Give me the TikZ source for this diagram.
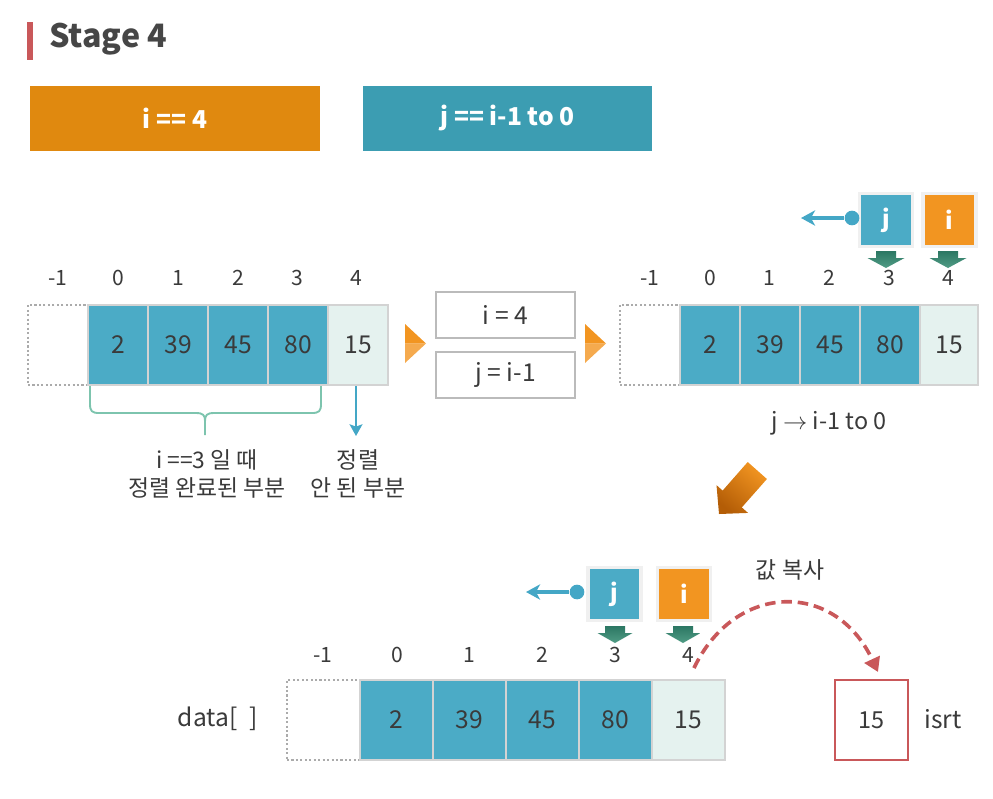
\documentclass[tikz,border=0pt]{standalone}
\usepackage{fontspec}
\setmainfont{Noto Sans CJK KR}
\usetikzlibrary{arrows.meta}
\definecolor{txt}{HTML}{3A3A3A}
\definecolor{ttl}{HTML}{464646}
\definecolor{tealc}{HTML}{4BABC6}
\definecolor{lightc}{HTML}{E5F2EF}
\definecolor{cborder}{HTML}{D3D3D3}
\definecolor{dotc}{HTML}{ABABAB}
\definecolor{orangeb}{HTML}{E0890F}
\definecolor{tealb}{HTML}{3C9DB2}
\definecolor{orangep}{HTML}{F29521}
\definecolor{bluea}{HTML}{44A7C6}
\definecolor{greenT}{HTML}{2C7763}
\definecolor{greenB}{HTML}{509C85}
\definecolor{redc}{HTML}{C9585A}
\definecolor{bracec}{HTML}{7DC4AE}
\definecolor{boxb}{HTML}{BBBBBB}
\newcommand\myfs[1]{\fontsize{#1}{#1}\selectfont}
\begin{document}
\begin{tikzpicture}[x=0.03cm,y=-0.03cm,
  every node/.style={text=txt, inner sep=0pt},
  cellT/.style={draw=cborder, line width=2.2pt, fill=tealc, minimum height=2.4cm, font=\myfs{21pt}},
  cellL/.style={draw=cborder, line width=2.2pt, fill=lightc, minimum height=2.4cm, font=\myfs{21pt}},
  cellD/.style={draw=dotc, line width=1.8pt, dotted, minimum height=2.4cm},
  idx/.style={font=\myfs{18pt}},
  ptr/.style={draw=black!6, line width=3pt, minimum width=1.6cm, minimum height=1.6cm, text=white, font=\bfseries\myfs{20pt}},
  dot/.style={circle, fill=bluea, minimum size=0.44cm},
  barrow/.style={draw=bluea, line width=2.6pt, -{Stealth[length=12pt,width=13pt,inset=3.5pt]}},
  garrow/.style={top color=greenT, bottom color=greenB, draw=none},
  lbl/.style={align=center, font=\myfs{19.5pt}, text depth=0pt},
  mid/.style={draw=boxb, line width=1.5pt, minimum width=4.17cm, minimum height=1.38cm, font=\myfs{21pt}}
]
\useasboundingbox (0,0) rectangle (993,798);
% title
\fill[redc] (27,22) rectangle (33,60);
\node[anchor=west, text=ttl, font=\bfseries\myfs{27.5pt}] (title) at (49,39) {Stage 4};
% banners
\node[fill=orangeb, minimum width=8.7cm, minimum height=1.95cm, text=white, font=\bfseries\myfs{21pt}] (ban1) at (175,118) {i == 4};
\node[fill=tealb, minimum width=8.67cm, minimum height=1.95cm, text=white, font=\bfseries\myfs{21pt}] (ban2) at (507.5,118) {j == i-1 to 0};

% ===== top-left array =====
\node[cellD, minimum width=1.8cm] (am) at (58,345) {};
\node[cellT, minimum width=1.8cm] (a0) at (118,345) {2};
\node[cellT, minimum width=1.8cm] (a1) at (178,345) {39};
\node[cellT, minimum width=1.8cm] (a2) at (238,345) {45};
\node[cellT, minimum width=1.8cm] (a3) at (298,345) {80};
\node[cellL, minimum width=1.8cm] (a4) at (358,345) {15};
\foreach \x/\t/\n in {58/-1/m,118/0/0,178/1/1,238/2/2,297/3/3,356/4/4}
  \node[idx] (ai\n) at (\x,278) {\t};
% brace
\draw[bracec, line width=1.6pt] (90,386) -- (90,404) .. controls (90,411) and (92,413) .. (99,413)
  -- (196,413) .. controls (203,413) and (205,415) .. (205,421) -- (205,435);
\draw[bracec, line width=1.6pt] (321,386) -- (321,404) .. controls (321,411) and (319,413) .. (312,413)
  -- (214,413) .. controls (207,413) and (205,415) .. (205,421);
\node[lbl] (l1) at (207,473) {i ==3 일 때\\[4pt]정렬 완료된 부분};
\node[lbl] (l2) at (358,473) {정렬\\[4pt]안 된 부분};
\coordinate (a4tip) at (356,436);
\draw[draw=bluea, line width=1.8pt, -{Stealth[length=10pt,width=11pt,inset=2pt]}] (356,386) -- (a4tip);

% orange triangles
\foreach \x in {405,585}{
  \fill[orangep] (\x,324) -- (\x+21,343.5) -- (\x,343.5) -- cycle;
  \fill[orangep!80!white] (\x,343.5) -- (\x+21,343.5) -- (\x,363) -- cycle;
}
% middle boxes
\node[mid] (mb1) at (505.5,315) {i = 4};
\node[mid] (mb2) at (505.5,375) {j = i-1};

% ===== top-right array =====
\node[cellD, minimum width=1.8cm] (bm) at (650,345) {};
\node[cellT, minimum width=1.8cm] (b0) at (710,345) {2};
\node[cellT, minimum width=1.8cm] (b1) at (770,345) {39};
\node[cellT, minimum width=1.8cm] (b2) at (830,345) {45};
\node[cellT, minimum width=1.8cm] (b3) at (890,345) {80};
\node[cellL, minimum width=1.75cm] (b4) at (949,345) {15};
\foreach \x/\t/\n in {650/-1/m,710/0/0,769/1/1,829/2/2,889/3/3,948/4/4}
  \node[idx] (bi\n) at (\x,278) {\t};
\node[ptr, fill=tealc] (pj1) at (886,220) {j};
\node[ptr, fill=orangep] (pi1) at (949.5,220) {i};
\node[dot] (c1) at (852,218) {};
\coordinate (e1) at (801,218);
\draw[barrow] (c1) -- (e1);
\foreach \x in {886,948}
  \path[garrow] (\x-10,251) -- (\x+10,251) -- (\x+10,258) -- (\x+18.5,258) -- (\x,268) -- (\x-18.5,258) -- (\x-10,258) -- cycle;
\node[font=\myfs{20pt}] (jt) at (829,423) {j \(\rightarrow\) i-1 to 0};

% big orange arrow
\shade[top color=orangep, bottom color=black!30!orange!90!brown, shading angle=-40]
  (766.9,479) -- (741.8,507.4) -- (748,512.9) -- (719,514) -- (716.5,485.1) -- (722.6,490.6) -- (747.7,462) -- cycle;

% ===== bottom array =====
\node[font=\myfs{21pt}] (dl) at (218,719) {data[\hspace{0.5em}]};
\node[cellD, minimum width=2.19cm] (cm) at (323.5,720) {};
\node[cellT, minimum width=2.19cm] (c0) at (396.5,720) {2};
\node[cellT, minimum width=2.19cm] (cc1) at (469.5,720) {39};
\node[cellT, minimum width=2.19cm] (c2) at (542.5,720) {45};
\node[cellT, minimum width=2.19cm] (c3) at (615.5,720) {80};
\node[cellL, minimum width=2.19cm] (c4) at (688.5,720) {15};
\foreach \x/\t/\n in {323/-1/m,397/0/0,469/1/1,542/2/2,615/3/3,688/4/4}
  \node[idx] (ci\n) at (\x,655) {\t};
\node[ptr, fill=tealc] (pj2) at (614.5,594) {j};
\node[ptr, fill=orangep] (pi2) at (684,594) {i};
\node[dot] (c2d) at (577,592) {};
\coordinate (e2) at (526,592);
\draw[barrow] (c2d) -- (e2);
\foreach \x in {615,683}
  \path[garrow] (\x-10,626) -- (\x+10,626) -- (\x+10,633) -- (\x+17.5,633) -- (\x,643) -- (\x-17.5,633) -- (\x-10,633) -- cycle;
% isrt
\node[draw=redc, line width=1.5pt, minimum width=2.19cm, minimum height=2.4cm, font=\myfs{20pt}] (is) at (871.5,720) {15};
\node[font=\myfs{21pt}] (isl) at (943,719) {isrt};
\node[font=\myfs{19.5pt}] (cp) at (790,570) {값 복사};
\coordinate (ds) at (694,668);
\coordinate (de) at (878,672);
\draw[redc, line width=3.1pt, dash pattern=on 9pt off 5pt, -{Triangle[length=12pt,width=14pt]}]
  (ds) .. controls (735,582) and (835,580) .. (de);
\end{tikzpicture}
\end{document}
